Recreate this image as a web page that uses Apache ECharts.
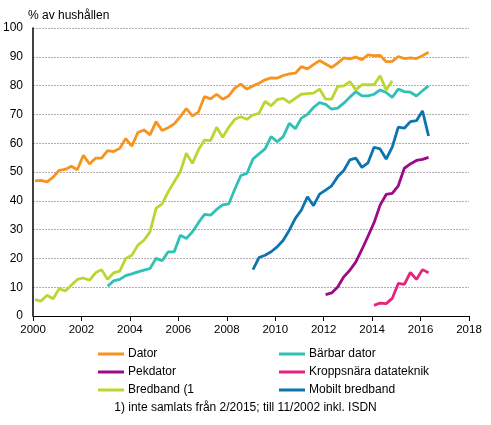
<!DOCTYPE html>
<html>
<head>
<meta charset="utf-8">
<script src="https://cdn.jsdelivr.net/npm/echarts@6/dist/echarts.min.js"></script>
<style>
  html, body { margin: 0; padding: 0; background: #fff; }
  #chart { width: 491px; height: 425px; }
</style>
</head>
<body>
<div id="chart"></div>
<script>
// kvartalsvärden, % av hushållen
var dator = [46.9, 47.1, 46.6, 48.2, 50.6, 50.9, 52.0, 50.8, 55.8, 52.8, 54.8, 54.8,
    57.4, 57.1, 58.2, 61.6, 59.0, 63.7, 64.6, 62.9, 67.5, 64.4, 65.4, 66.7,
    69.2, 72.0, 69.5, 70.8, 76.2, 75.4, 77.0, 75.3, 76.4, 79.1, 80.5, 78.8,
    79.9, 80.8, 82.0, 82.7, 82.6, 83.5, 84.1, 84.3, 86.6, 85.8, 87.3, 88.7,
    87.5, 86.3, 87.8, 89.6, 89.3, 89.9, 89.0, 90.7, 90.4, 90.5, 88.3, 88.4,
    90.1, 89.4, 89.6, 89.4, 90.4, 91.6];
var bredband = [5.7, 5.2, 7.2, 6.0, 9.5, 8.7, 10.7, 12.7, 13.2, 12.4, 15.0, 16.1,
    12.7, 15.0, 15.6, 20.0, 21.1, 24.6, 26.3, 29.2, 37.4, 38.9, 43.1, 46.6,
    50.1, 56.5, 53.0, 57.7, 61.1, 60.9, 65.5, 62.1, 65.5, 68.3, 69.2, 68.3,
    69.8, 70.4, 74.5, 73.0, 75.1, 75.6, 74.1, 75.6, 77.0, 77.2, 77.4, 78.8,
    75.3, 75.3, 79.7, 79.9, 81.4, 78.5, 80.3, 80.3, 80.3, 83.4, 78.5, 81.7];
var barbar = [10.3, 12.2, 12.7, 14.0, 14.6, 15.3, 15.9, 16.5, 20.0, 19.2, 22.3, 22.3,
    28.0, 26.9, 29.2, 32.4, 35.3, 35.0, 37.0, 38.6, 38.9, 44.0, 48.8, 49.5,
    54.5, 56.3, 58.0, 62.3, 60.5, 62.3, 66.9, 65.0, 68.7, 70.0, 72.4, 74.1,
    73.5, 71.8, 72.2, 73.9, 76.0, 77.9, 76.4, 76.4, 77.0, 78.5, 77.6, 75.9,
    78.8, 77.9, 77.7, 76.4, 78.2, 79.9];
var mobilt = [16.1, 20.3, 21.1, 22.3, 24.0, 26.3, 29.8, 33.9, 36.8, 41.4, 38.3, 42.3,
    43.7, 45.2, 48.4, 50.5, 54.2, 54.8, 51.6, 53.2, 58.6, 58.0, 54.5, 58.6,
    65.6, 65.2, 67.5, 67.8, 71.2, 62.5];
var pekdator = [7.4, 8.0, 10.1, 13.6, 15.9, 18.8, 23.1, 27.7, 32.4, 38.5, 42.2, 42.6,
    45.2, 51.3, 52.8, 54.0, 54.4, 55.1];
var kropps = [3.7, 4.5, 4.3, 6.1, 11.3, 11.0, 15.1, 12.7, 16.1, 15.0];

// första mätningen för varje serie (år), därefter en per kvartal
var starts = { dator: 2000.08, bredband: 2000.08, barbar: 2003.08, mobilt: 2009.08, pekdator: 2012.08, kropps: 2014.08 };

var names = ['Dator', 'Bärbar dator', 'Pekdator', 'Kroppsnära datateknik', 'Bredband (1', 'Mobilt bredband'];
var colors = ['#F7931E', '#2FC1B5', '#9C0A86', '#E8237D', '#BCD631', '#0D74B0'];

function toPoints(start, vals) {
    return vals.map(function (v, i) { return [start + i * 0.25, v]; });
}

function line(name, color, pts) {
    return {
        name: name,
        type: 'line',
        data: pts,
        symbol: 'none',
        smooth: false,
        lineStyle: { width: 2.8, color: color },
        itemStyle: { color: color },
        emphasis: { disabled: true }
    };
}

var chart = echarts.init(document.getElementById('chart'));

chart.setOption({
    animation: false,
    textStyle: { fontFamily: 'Liberation Sans, Arial, sans-serif', color: '#000' },
    title: {
        text: '% av hushållen',
        left: 23, top: 5,
        textStyle: { fontSize: 12, fontWeight: 'normal', color: '#000' }
    },
    grid: { left: 33, top: 28, width: 436, height: 288, containLabel: false },
    xAxis: {
        type: 'value',
        min: 2000, max: 2018, interval: 2,
        axisLine: { lineStyle: { color: '#000', width: 1 } },
        axisTick: { show: true, length: 5, lineStyle: { color: '#000' } },
        axisLabel: { fontSize: 11.5, color: '#000', margin: 8, formatter: function (v) { return String(v); } },
        splitLine: { show: false }
    },
    yAxis: {
        type: 'value',
        min: 0, max: 100, interval: 10,
        axisLine: { show: true, lineStyle: { color: '#000', width: 1.5 } },
        axisTick: { show: false },
        axisLabel: { fontSize: 12, color: '#000', margin: 10 },
        splitLine: { show: true, lineStyle: { color: '#b3adb3', type: [2, 1], width: 1 } }
    },
    legend: [{
        orient: 'vertical',
        left: 93, top: 342,
        icon: 'rect', itemWidth: 26, itemHeight: 3, itemGap: 4,
        data: ['Dator', 'Pekdator', 'Bredband (1'],
        textStyle: { fontSize: 12, color: '#000', lineHeight: 14, padding: [0, 0, 0, -1] },
        selectedMode: false
    }, {
        orient: 'vertical',
        left: 274, top: 342,
        icon: 'rect', itemWidth: 26, itemHeight: 3, itemGap: 4,
        data: ['Bärbar dator', 'Kroppsnära datateknik', 'Mobilt bredband'],
        textStyle: { fontSize: 12, color: '#000', lineHeight: 14, padding: [0, 0, 0, -1] },
        selectedMode: false
    }],
    graphic: [{
        type: 'text',
        left: 'center', top: 402,
        style: {
            text: '1) inte samlats från 2/2015; till 11/2002 inkl. ISDN',
            font: '12px "Liberation Sans", Arial, sans-serif',
            fill: '#000'
        }
    }],
    series: [
        line(names[0], colors[0], toPoints(starts.dator, dator)),
        line(names[1], colors[1], toPoints(starts.barbar, barbar)),
        line(names[2], colors[2], toPoints(starts.pekdator, pekdator)),
        line(names[3], colors[3], toPoints(starts.kropps, kropps)),
        line(names[4], colors[4], toPoints(starts.bredband, bredband)),
        line(names[5], colors[5], toPoints(starts.mobilt, mobilt))
    ]
});
</script>
</body>
</html>
